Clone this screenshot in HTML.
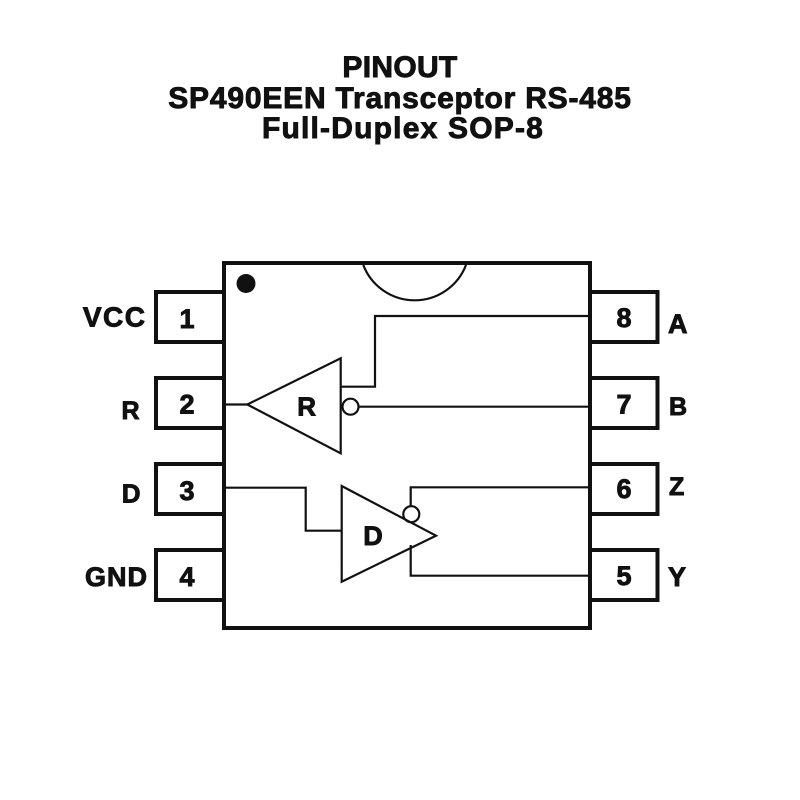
<!DOCTYPE html>
<html>
<head>
<meta charset="utf-8">
<style>
html,body{margin:0;padding:0;background:#fff;}
svg{display:block;}
text{font-family:"Liberation Sans",Arial,sans-serif;font-weight:bold;fill:#111;stroke:#111;stroke-width:0.9;}
</style>
</head>
<body>
<svg width="800" height="800" viewBox="0 0 800 800" xmlns="http://www.w3.org/2000/svg">
  <rect width="800" height="800" fill="#fff"/>
  <!-- Title -->
  <text x="400" y="77" font-size="30" text-anchor="middle" letter-spacing="0.3">PINOUT</text>
  <text x="400" y="108" font-size="30" text-anchor="middle" letter-spacing="0.8">SP490EEN Transceptor RS-485</text>
  <text x="403" y="138" font-size="30" text-anchor="middle" letter-spacing="1.2">Full-Duplex SOP-8</text>

  <!-- Pin boxes -->
  <g fill="none" stroke="#111" stroke-width="4">
    <rect x="156" y="292" width="68" height="50"/>
    <rect x="156" y="378" width="68" height="50"/>
    <rect x="156" y="464" width="68" height="50"/>
    <rect x="156" y="550" width="68" height="50"/>
    <rect x="590" y="292" width="67.5" height="50"/>
    <rect x="590" y="378" width="67.5" height="50"/>
    <rect x="590" y="464" width="67.5" height="50"/>
    <rect x="590" y="550" width="67.5" height="50"/>
  </g>
  <!-- Body -->
  <rect x="224" y="263" width="366" height="365" fill="#fff" stroke="#111" stroke-width="4"/>
  <!-- Notch -->
  <path d="M363.3,265 A55,55 0 0 0 466,265" fill="none" stroke="#111" stroke-width="2.2"/>
  <!-- Pin 1 dot -->
  <circle cx="246" cy="283.5" r="9.5" fill="#111"/>

  <!-- Receiver R -->
  <g fill="none" stroke="#111" stroke-width="2.2">
    <line x1="224" y1="404.5" x2="247.3" y2="404.5"/>
    <polygon points="247.3,404.5 340.7,358.3 340.7,453.3"/>
    <circle cx="350.5" cy="406.7" r="8"/>
    <line x1="358.5" y1="406.7" x2="590" y2="406.7"/>
    <polyline points="340.7,386.7 375,386.7 375,316 590,316"/>
  </g>
  <text x="306.7" y="415.7" font-size="26" text-anchor="middle">R</text>

  <!-- Driver D -->
  <g fill="none" stroke="#111" stroke-width="2.2">
    <polyline points="224,487.7 305.7,487.7 305.7,530.7 341.7,530.7"/>
    <polygon points="341.7,486 341.7,581.7 436,535.7"/>
    <circle cx="411.3" cy="514.2" r="8"/>
    <polyline points="410.7,506.2 410.7,487.3 590,487.3"/>
    <polyline points="410.7,545 410.7,575.7 590,575.7"/>
  </g>
  <text x="373" y="545" font-size="27" text-anchor="middle">D</text>

  <!-- Pin numbers -->
  <g font-size="27" text-anchor="middle">
    <text x="187" y="328">1</text>
    <text x="187" y="413.3">2</text>
    <text x="187" y="500">3</text>
    <text x="187" y="586">4</text>
    <text x="624" y="327">8</text>
    <text x="624" y="413.3">7</text>
    <text x="624" y="498">6</text>
    <text x="624" y="585">5</text>
  </g>
  <!-- Left labels -->
  <g text-anchor="end">
    <text x="146.5" y="326.7" font-size="28" letter-spacing="1.5">VCC</text>
    <text x="139.5" y="419" font-size="25">R</text>
    <text x="140.5" y="502.3" font-size="26">D</text>
    <text x="148" y="586" font-size="27" letter-spacing="1">GND</text>
  </g>
  <!-- Right labels -->
  <g>
    <text x="668" y="333" font-size="27">A</text>
    <text x="669" y="415" font-size="25">B</text>
    <text x="669" y="495" font-size="25">Z</text>
    <text x="668" y="586" font-size="27">Y</text>
  </g>
</svg>
</body>
</html>
